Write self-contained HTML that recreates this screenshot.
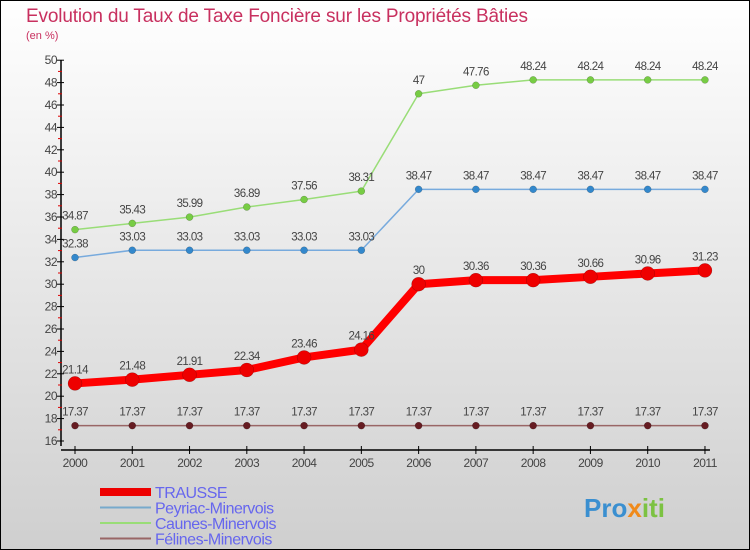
<!DOCTYPE html>
<html><head><meta charset="utf-8"><style>
body{margin:0}
svg{display:block;font-family:"Liberation Sans",sans-serif}
</style></head><body>
<svg id="c" width="750" height="550">
<defs><linearGradient id="bg" x1="0" y1="0" x2="0" y2="1"><stop offset="0" stop-color="#ffffff"/><stop offset="1" stop-color="#cfcfcf"/></linearGradient></defs>
<rect x="0.5" y="0.5" width="749" height="549" fill="url(#bg)" stroke="#000"/>
<text x="26" y="22" font-size="19" fill="#c8305f" textLength="502">Evolution du Taux de Taxe Foncière sur les Propriétés Bâties</text>
<text x="26" y="39" font-size="11" fill="#c8305f">(en %)</text>
<g id="axes"></g><g id="series"></g><g id="legend"></g>
<text x="584" y="517" font-size="26" font-weight="bold" fill="#3a8fd0">Pro<tspan fill="#f08a1a">x</tspan><tspan fill="#7cc242">iti</tspan></text>
</svg>
<script>
const years=[2000,2001,2002,2003,2004,2005,2006,2007,2008,2009,2010,2011];
const trausse=[21.14,21.48,21.91,22.34,23.46,24.16,30,30.36,30.36,30.66,30.96,31.23];
const peyriac=[32.38,33.03,33.03,33.03,33.03,33.03,38.47,38.47,38.47,38.47,38.47,38.47];
const caunes=[34.87,35.43,35.99,36.89,37.56,38.31,47,47.76,48.24,48.24,48.24,48.24];
const felines=[17.37,17.37,17.37,17.37,17.37,17.37,17.37,17.37,17.37,17.37,17.37,17.37];
const yTicks=[16,18,20,22,24,26,28,30,32,34,36,38,40,42,44,46,48,50];
const NS="http://www.w3.org/2000/svg";
const X=i=>75+i*57.27;
const Y=v=>441-(v-16)*11.2;
function mk(t,a,p){const e=document.createElementNS(NS,t);for(const k in a)e.setAttribute(k,a[k]);p.appendChild(e);return e;}
const ax=document.getElementById('axes');
let l=mk('line',{x1:61,y1:Y(50),x2:61,y2:Y(16)+5,stroke:'#000','stroke-width':1.5},ax);


l=mk('line',{x1:61,y1:450,x2:X(11)+5,y2:450,stroke:'#000','stroke-width':1.5},ax);


yTicks.forEach(v=>{
 mk('line',{x1:57,x2:64,y1:Y(v),y2:Y(v),stroke:'#000'},ax);
 if(v<50)mk('line',{x1:58,x2:62,y1:Y(v+1),y2:Y(v+1),stroke:'#d00'},ax);
 const t=mk('text',{x:57,y:Y(v)+4,'text-anchor':'end','font-size':12,fill:'#444','letter-spacing':'-0.5'},ax);
 t.textContent=v;
 
 
});
years.forEach((y,i)=>{
 mk('line',{x1:X(i),x2:X(i),y1:446,y2:454,stroke:'#000'},ax);
 const t=mk('text',{x:X(i),y:467,'text-anchor':'middle','font-size':12,fill:'#444','letter-spacing':'-0.5'},ax);
 t.textContent=y;
 
 
});
const sg=document.getElementById('series');
function draw(vals,col,dot,w,r,name){
 const g=mk('g',{},sg);
 
 
 mk('polyline',{points:vals.map((v,i)=>X(i)+','+Y(v)).join(' '),fill:'none',stroke:col,'stroke-width':w,'stroke-linejoin':'round'},g);
 vals.forEach((v,i)=>{
  const c=mk('circle',{cx:X(i),cy:Y(v),r:r,fill:dot,stroke:'rgba(0,0,0,0.3)','stroke-width':0.5},g);
  
  
  const t=mk('text',{x:X(i),y:Y(v)-10,'text-anchor':'middle','font-size':11.5,fill:'#444','letter-spacing':'-0.6'},g);
  t.textContent=v;
  
  
 });
}
draw(caunes,'#99dd77','#77cc44',1.5,3.5,'caunes');
draw(peyriac,'#77aadd','#3388cc',1.5,3.5,'peyriac');
draw(felines,'#996666','#661c22',1.5,3.5,'felines');
draw(trausse,'#ff0000','#ee0000',8,7,'trausse');
const lg=document.getElementById('legend');
const leg=[['TRAUSSE','#ee0000',8],['Peyriac-Minervois','#77aacc',2],['Caunes-Minervois','#99dd77',2],['Félines-Minervois','#996666',2]];
leg.forEach((e,i)=>{
 const y=492+i*15.5;
 const g=mk('g',{},lg);
 
 
 mk('line',{x1:100,x2:151,y1:y,y2:y,stroke:e[1],'stroke-width':e[2]},g);
 const t=mk('text',{x:155,y:y+6,'font-size':16,fill:'#6666ee','letter-spacing':'-0.5'},g);
 t.textContent=e[0];
});
</script>
</body></html>
